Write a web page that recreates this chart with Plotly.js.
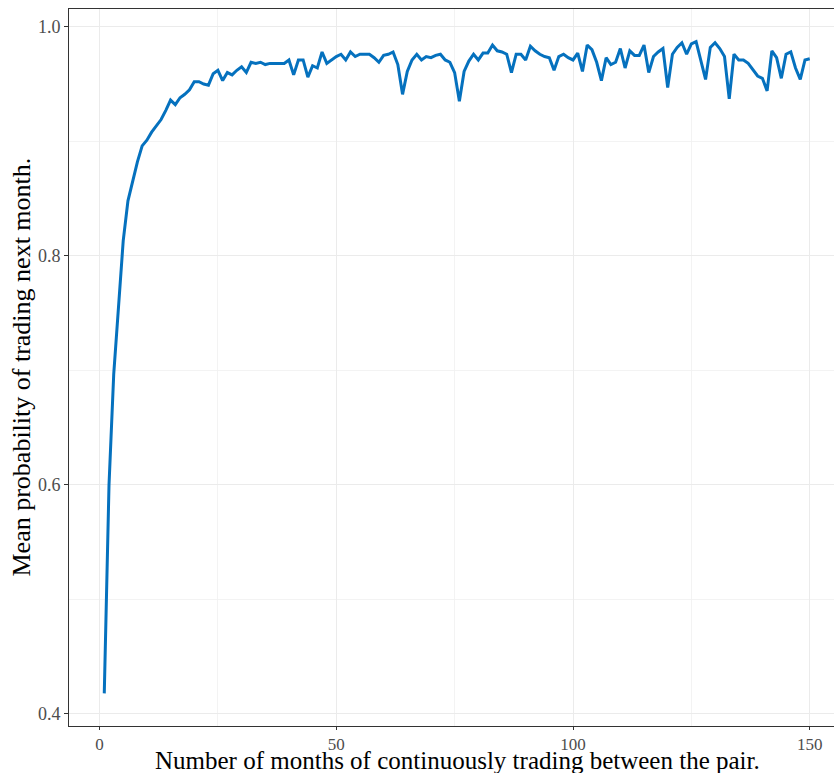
<!DOCTYPE html>
<html>
<head>
<meta charset="utf-8">
<script src="https://cdn.plot.ly/plotly-3.0.1.min.js"></script>
<style>
  html, body { margin: 0; padding: 0; overflow: hidden; background: #ffffff; }
  #chart { width: 850px; height: 773px; }
</style>
</head>
<body>
<div id="chart"></div>
<script>
// Months of continuous trading between a pair (1..150)
const months = [
  1, 2, 3, 4, 5, 6, 7, 8, 9, 10,
  11, 12, 13, 14, 15, 16, 17, 18, 19, 20,
  21, 22, 23, 24, 25, 26, 27, 28, 29, 30,
  31, 32, 33, 34, 35, 36, 37, 38, 39, 40,
  41, 42, 43, 44, 45, 46, 47, 48, 49, 50,
  51, 52, 53, 54, 55, 56, 57, 58, 59, 60,
  61, 62, 63, 64, 65, 66, 67, 68, 69, 70,
  71, 72, 73, 74, 75, 76, 77, 78, 79, 80,
  81, 82, 83, 84, 85, 86, 87, 88, 89, 90,
  91, 92, 93, 94, 95, 96, 97, 98, 99, 100,
  101, 102, 103, 104, 105, 106, 107, 108, 109, 110,
  111, 112, 113, 114, 115, 116, 117, 118, 119, 120,
  121, 122, 123, 124, 125, 126, 127, 128, 129, 130,
  131, 132, 133, 134, 135, 136, 137, 138, 139, 140,
  141, 142, 143, 144, 145, 146, 147, 148, 149, 150
];

// Mean probability of trading in the following month
const meanProb = [
  0.418, 0.600, 0.697, 0.760, 0.813, 0.848, 0.866, 0.882, 0.896, 0.901,
  0.908, 0.914, 0.919, 0.927, 0.936, 0.932, 0.938, 0.941, 0.945, 0.952,
  0.952, 0.950, 0.949, 0.959, 0.962, 0.953, 0.960, 0.958, 0.962, 0.965,
  0.960, 0.969, 0.968, 0.969, 0.967, 0.968, 0.968, 0.968, 0.968, 0.971,
  0.958, 0.971, 0.971, 0.956, 0.966, 0.964, 0.978, 0.968, 0.971, 0.974,
  0.976, 0.971, 0.978, 0.974, 0.976, 0.976, 0.976, 0.973, 0.969, 0.975,
  0.976, 0.978, 0.967, 0.941, 0.961, 0.971, 0.976, 0.971, 0.974, 0.973,
  0.975, 0.976, 0.971, 0.969, 0.960, 0.935, 0.961, 0.970, 0.976, 0.971,
  0.977, 0.977, 0.984, 0.979, 0.978, 0.976, 0.960, 0.976, 0.976, 0.971,
  0.983, 0.979, 0.976, 0.974, 0.973, 0.962, 0.974, 0.976, 0.973, 0.971,
  0.977, 0.961, 0.984, 0.980, 0.969, 0.953, 0.973, 0.967, 0.969, 0.981,
  0.964, 0.979, 0.975, 0.975, 0.984, 0.960, 0.974, 0.978, 0.981, 0.947,
  0.976, 0.982, 0.986, 0.976, 0.985, 0.987, 0.971, 0.954, 0.982, 0.986,
  0.981, 0.974, 0.937, 0.976, 0.971, 0.971, 0.968, 0.963, 0.957, 0.955,
  0.944, 0.979, 0.973, 0.955, 0.976, 0.978, 0.964, 0.954, 0.971, 0.972
];

const xTicks = [0, 50, 100, 150];
const yTicks = [0.4, 0.6, 0.8, 1.0];

const xTitle = 'Number of months of continuously trading between the pair.';
const yTitle = 'Mean probability of trading next month.';

const serif = '"Liberation Serif", "DejaVu Serif", serif';
const gridCol = '#EBEBEB';
const frameCol = '#333333';
const tickLabelCol = '#4D4D4D';

const trace = {
  x: months,
  y: meanProb,
  type: 'scatter',
  mode: 'lines',
  line: { color: '#0571BE', width: 3 },
  hoverinfo: 'x+y'
};

const layout = {
  width: 850,
  height: 773,
  margin: { l: 69, r: 5, t: 9, b: 47 },
  paper_bgcolor: '#ffffff',
  plot_bgcolor: '#ffffff',
  showlegend: false,
  xaxis: {
    range: [-6.45, 157.45],
    tickvals: xTicks,
    ticktext: xTicks.map(String),
    ticks: 'outside',
    ticklen: 3,
    tickwidth: 1,
    tickcolor: frameCol,
    tickfont: { family: serif, size: 17, color: tickLabelCol },
    showgrid: true,
    gridcolor: gridCol,
    gridwidth: 1,
    minor: { tickvals: [25, 75, 125], showgrid: true, gridcolor: '#F0F0F0', gridwidth: 0.8, ticks: '' },
    zeroline: false,
    showline: true,
    linecolor: frameCol,
    linewidth: 1,
    mirror: true
  },
  yaxis: {
    range: [0.3895, 1.0155],
    tickvals: yTicks,
    ticktext: yTicks.map(v => v.toFixed(1)),
    ticks: 'outside',
    ticklen: 4,
    tickwidth: 1,
    tickcolor: frameCol,
    tickfont: { family: serif, size: 18, color: tickLabelCol },
    showgrid: true,
    gridcolor: gridCol,
    gridwidth: 1,
    minor: { tickvals: [0.5, 0.7, 0.9], showgrid: true, gridcolor: '#F0F0F0', gridwidth: 0.8, ticks: '' },
    zeroline: false,
    showline: true,
    linecolor: frameCol,
    linewidth: 1,
    mirror: true
  },
  annotations: [
    {
      text: xTitle,
      xref: 'paper', yref: 'paper',
      x: 0.5, y: 0,
      xanchor: 'center', yanchor: 'middle',
      yshift: -34,
      showarrow: false,
      font: { family: serif, size: 25, color: '#000000' }
    },
    {
      text: yTitle,
      xref: 'paper', yref: 'paper',
      x: 0, y: 0.5,
      xanchor: 'center', yanchor: 'middle',
      xshift: -48,
      textangle: -90,
      showarrow: false,
      font: { family: serif, size: 26, color: '#000000' }
    }
  ]
};

Plotly.newPlot('chart', [trace], layout, { displayModeBar: false, staticPlot: true });
</script>
</body>
</html>
